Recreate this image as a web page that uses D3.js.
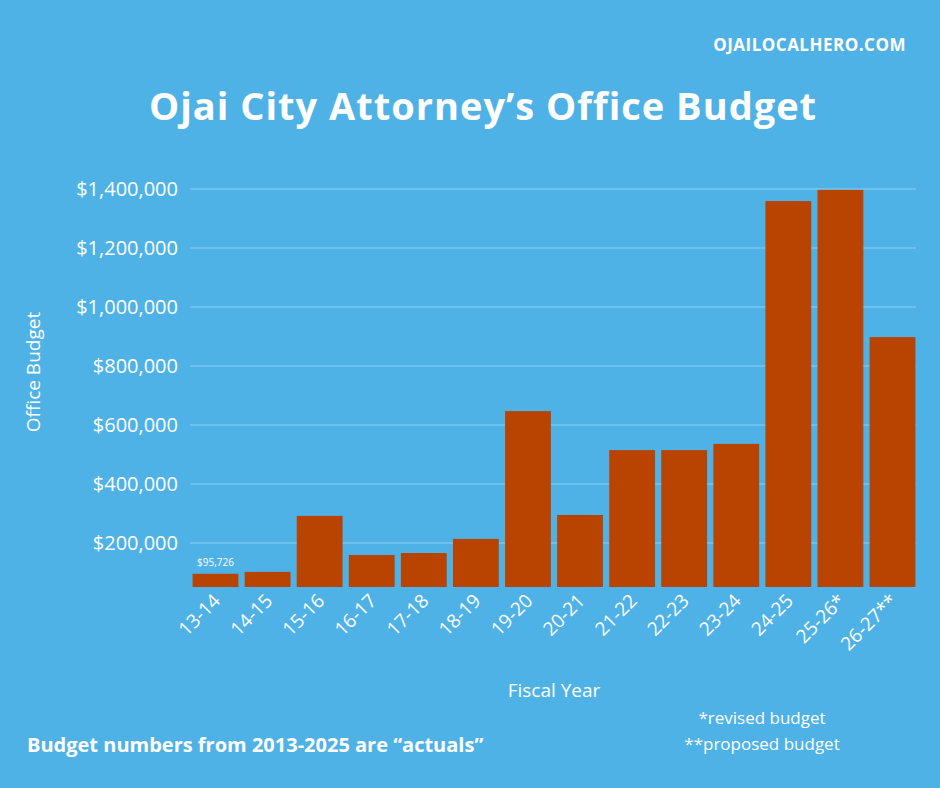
<!DOCTYPE html>
<html><head><meta charset="utf-8">
<script src="https://cdn.jsdelivr.net/npm/d3@7"></script>
<style>body{margin:0;background:#4fb2e6}text{font-family:"Open Sans",sans-serif;fill:#fff}</style>
</head><body><svg></svg>
<script>
var years = ["13-14","14-15","15-16","16-17","17-18","18-19","19-20","20-21","21-22","22-23","23-24","24-25","25-26*","26-27**"];
var budgets = [95726,102000,292000,159000,166000,214000,647000,295000,515000,515000,536000,1359000,1397000,898000];
var yTicks = [200000,400000,600000,800000,1000000,1200000,1400000];

var W = 940, H = 788;
var svg = d3.select("svg").attr("width", W).attr("height", H);
svg.append("rect").attr("width", W).attr("height", H).attr("fill", "#4fb2e6");

var x = d3.scaleBand().domain(years).range([190, 918]).paddingInner(0.12).paddingOuter(0.05);
var y = d3.scaleLinear().domain([0, 1400000]).range([602, 189]);
var base = 587;

svg.selectAll(".grid").data(yTicks).enter().append("line")
  .attr("x1", 190).attr("x2", 916)
  .attr("y1", d => y(d)).attr("y2", d => y(d))
  .attr("stroke", "#8fd0f2").attr("stroke-width", 1);

svg.selectAll(".ytick").data(yTicks).enter().append("text")
  .attr("x", 178).attr("y", d => y(d) + 7)
  .attr("text-anchor", "end").attr("font-size", "20px")
  .text(d => "$" + d3.format(",")(d));

svg.selectAll(".bar").data(budgets).enter().append("rect")
  .attr("x", (d, i) => x(years[i])).attr("width", x.bandwidth())
  .attr("y", d => y(d)).attr("height", d => base - y(d))
  .attr("fill", "#b94300");

svg.append("text").attr("x", x(years[0]) + x.bandwidth() / 2).attr("y", y(budgets[0]) - 8)
  .attr("text-anchor", "middle").attr("font-size", "10px").text("$95,726");

svg.selectAll(".xtick").data(years).enter().append("text")
  .attr("transform", d => "translate(" + (x(d) + x.bandwidth() / 2 + 6) + ",602) rotate(-45)")
  .attr("text-anchor", "end").attr("font-size", "19px").text(d => d);

svg.append("text").attr("transform", "translate(40,372) rotate(-90)")
  .attr("text-anchor", "middle").attr("font-size", "19px").text("Office Budget");
svg.append("text").attr("x", 554).attr("y", 697).attr("text-anchor", "middle")
  .attr("font-size", "19px").text("Fiscal Year");

svg.append("text").attr("x", 483).attr("y", 120).attr("text-anchor", "middle")
  .attr("font-size", "38px").attr("font-weight", "bold").attr("letter-spacing", "1px")
  .text("Ojai City Attorney’s Office Budget");
svg.append("text").attr("x", 906).attr("y", 51).attr("text-anchor", "end")
  .attr("font-size", "17px").attr("font-weight", "bold").attr("letter-spacing", "0.5px")
  .text("OJAILOCALHERO.COM");
svg.append("text").attr("x", 27).attr("y", 752).attr("font-size", "20px")
  .attr("font-weight", "bold").text("Budget numbers from 2013-2025 are “actuals”");
svg.append("text").attr("x", 762).attr("y", 724).attr("text-anchor", "middle")
  .attr("font-size", "17px").text("*revised budget");
svg.append("text").attr("x", 762).attr("y", 750).attr("text-anchor", "middle")
  .attr("font-size", "17px").text("**proposed budget");
</script></body></html>
